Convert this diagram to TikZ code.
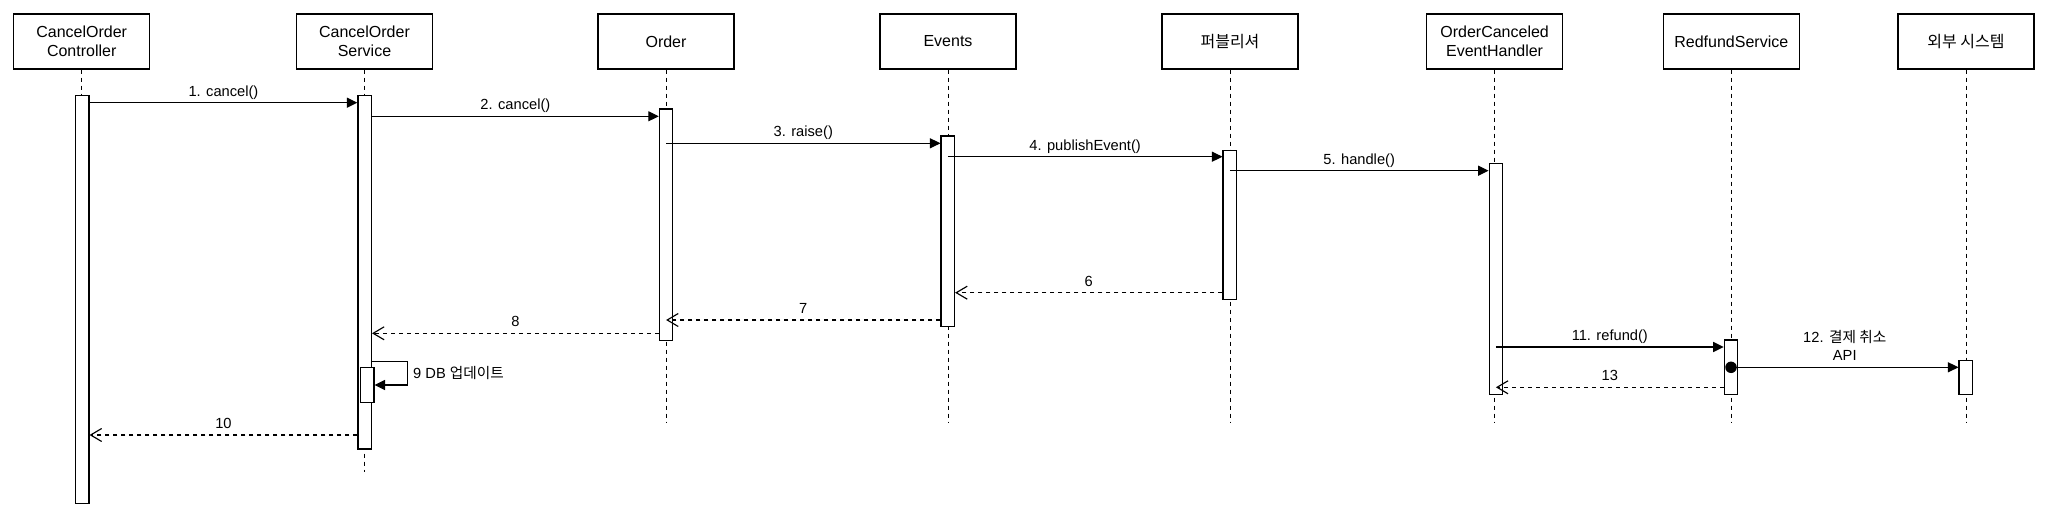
\documentclass[tikz,border=0pt]{standalone}
\usepackage{fontspec}
\setmainfont{Liberation Sans}
\newfontfamily\kr{Noto Sans CJK KR}
\usetikzlibrary{arrows.meta}
\begin{document}
\begin{tikzpicture}[x=1pt,y=-1pt,
  head/.style={draw, line width=1.15pt, fill=white, minimum width=136pt, minimum height=55pt, inner sep=0pt, align=center, font=\fontsize{16}{19.5}\selectfont},
  act/.style={draw, line width=1.15pt, fill=white, minimum width=13.5pt, inner sep=0pt},
  life/.style={line width=1pt, dash pattern=on 4pt off 4pt},
  msg/.style={line width=1.15pt, -{Triangle[length=10.5pt,width=10pt]}},
  ret/.style={line width=1.15pt, dash pattern=on 4pt off 4pt, -{Straight Barb[length=11pt,width=13pt,line width=1.15pt]}},
  lbl/.style={font=\fontsize{14.67}{17.6}\selectfont, anchor=base, yshift=6.5pt, inner sep=0pt},
  dot/.style={circle, fill=black, minimum size=11.5pt, inner sep=0pt},
]
\useasboundingbox (0,0) rectangle (2048,519);

% heads
\node[head] (h1) at (81.7,41.5) {CancelOrder\\Controller};
\node[head] (h2) at (364.5,41.5) {CancelOrder\\Service};
\node[head] (h3) at (666,41.5) {Order};
\node[head] (h4) at (948,41.5) {Events};
\node[head] (h5) at (1230,41.5) {\kr 퍼블리셔};
\node[head] (h6) at (1494.6,41.5) {OrderCanceled\\EventHandler};
\node[head] (h7) at (1731.3,41.5) {RedfundService};
\node[head] (h8) at (1966,41.5) {\kr 외부 시스템};

% lifeline ends
\coordinate (e1) at (81.7,421.7);
\coordinate (e2) at (364.5,471.7);
\coordinate (e3) at (666,421.7);
\coordinate (e4) at (948,421.7);
\coordinate (e5) at (1230,421.7);
\coordinate (e6) at (1494.6,421.7);
\coordinate (e7) at (1731.3,421.7);
\coordinate (e8) at (1966,421.7);
\foreach \i in {1,...,8} { \draw[life] (h\i.south) -- (e\i); }

% activations
\node[act, minimum height=407.6pt] (a1) at (82.2,299.5) {};
\node[act, minimum height=353.3pt] (a2) at (364.7,272.35) {};
\node[act, minimum height=35.4pt] (a2b) at (367.2,385) {};
\node[act, minimum height=231.3pt] (a3) at (666.1,224.65) {};
\node[act, minimum height=190.7pt] (a4) at (947.8,231.35) {};
\node[act, minimum height=149pt] (a5) at (1229.8,224.8) {};
\node[act, minimum height=231pt] (a6) at (1495.9,278.8) {};
\node[act, minimum height=54.3pt] (a7) at (1731,367.15) {};
\node[act, minimum height=34pt] (a8) at (1965.8,377.3) {};

% message rows
\coordinate (y1) at (0,102.7);
\coordinate (y2) at (0,116.3);
\coordinate (y3) at (0,143.3);
\coordinate (y4) at (0,156.7);
\coordinate (y5) at (0,170.7);
\coordinate (y6) at (0,292.7);
\coordinate (y7) at (0,320);
\coordinate (y8) at (0,333.3);
\coordinate (y9a) at (0,361.7);
\coordinate (y9b) at (0,385);
\coordinate (x9) at (407.6,0);
\coordinate (y10) at (0,435);
\coordinate (y11) at (0,347);
\coordinate (y12) at (0,367.3);
\coordinate (y13) at (0,387.3);

\draw[msg] (a1.east |- y1) -- node[lbl] (l1) {1. cancel()} (a2.west |- y1);
\draw[msg] (a2.east |- y2) -- node[lbl] (l2) {2. cancel()} (a3.west |- y2);
\draw[msg] (a3.center |- y3) -- node[lbl] (l3) {3. raise()} (a4.west |- y3);
\draw[msg] (a4.center |- y4) -- node[lbl] (l4) {4. publishEvent()} (a5.west |- y4);
\draw[msg] (a5.center |- y5) -- node[lbl] (l5) {5. handle()} (a6.west |- y5);
\draw[ret] (a5.west |- y6) -- node[lbl] (l6) {6} (a4.east |- y6);
\draw[ret] (a4.west |- y7) -- node[lbl] (l7) {7} (a3.center |- y7);
\draw[ret] (a3.west |- y8) -- node[lbl] (l8) {8} (a2.east |- y8);
\draw[msg] (a2.east |- y9a) -- (x9 |- y9a) -- (x9 |- y9b) -- (a2b.east |- y9b);
\node[font=\fontsize{14.67}{17.6}\selectfont, anchor=base west, inner sep=0pt] (l9) at (413,378) {9 DB {\kr 업데이트}};
\draw[ret] (a2.west |- y10) -- node[lbl] (l10) {10} (a1.east |- y10);
\draw[msg] (a6.center |- y11) -- node[lbl] (l11) {11. refund()} (a7.west |- y11);
\node[dot] (d12) at (a7.center |- y12) {};
\draw[msg] (d12.center) -- node[lbl, anchor=south, align=center] (l12) {12. {\kr 결제 취소}\\API} (a8.west |- y12);
\draw[ret] (a7.west |- y13) -- node[lbl] (l13) {13} (a6.center |- y13);
\end{tikzpicture}
\end{document}
